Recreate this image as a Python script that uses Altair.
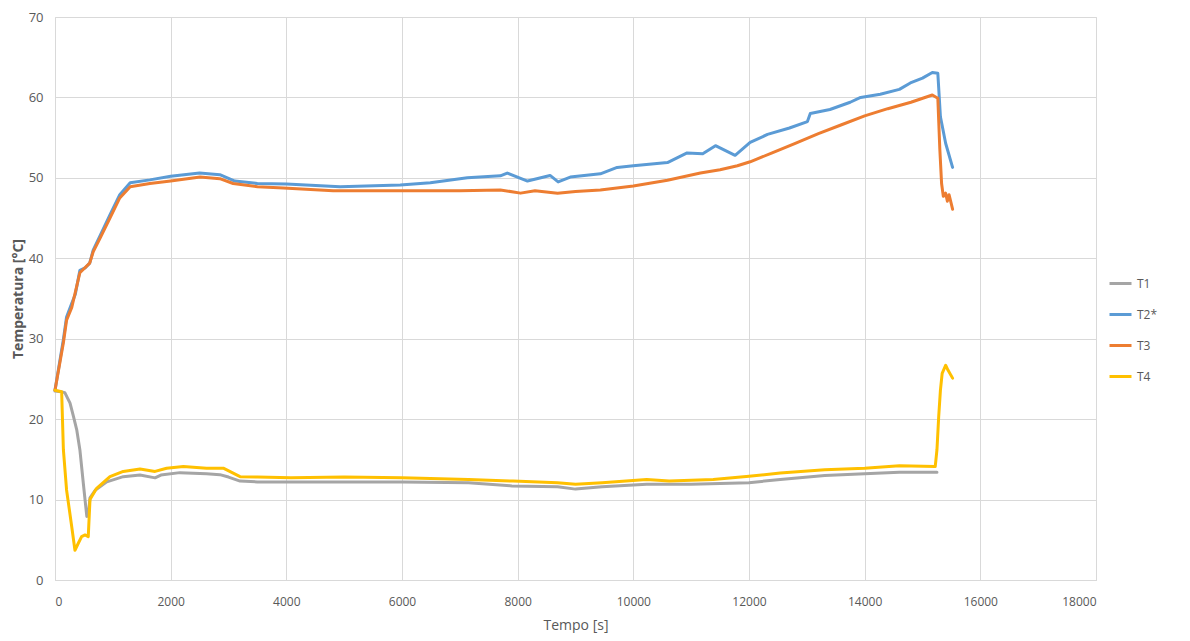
import altair as alt
import pandas as pd

series_names = ["T1", "T2*", "T3", "T4"]
series_colors = ["#A5A5A5", "#5B9BD5", "#ED7D31", "#FFC000"]

t1_time = [0, 100, 170, 260, 320, 375, 430, 490, 550, 575, 605, 700, 895, 1180, 1470, 1730, 1830, 2160,
           2620, 2850, 3000, 3200, 3500, 4080, 5000, 6000, 7150, 7900, 8690, 9000, 9460, 10230, 11000,
           12000, 12540, 13310, 14000, 14600, 15250]
t1_temp = [23.5, 23.4, 23.3, 22.0, 20.3, 18.7, 16.2, 12.0, 7.9, 8.0, 10.2, 11.2, 12.2, 12.85, 13.05, 12.7,
           13.05, 13.35, 13.2, 13.1, 12.8, 12.3, 12.2, 12.2, 12.2, 12.2, 12.1, 11.7, 11.6, 11.3, 11.6, 11.9,
           11.9, 12.1, 12.5, 13.0, 13.2, 13.4, 13.4]

t2_time = [0, 145, 200, 290, 350, 430, 520, 600, 660, 780, 950, 1120, 1300, 1640, 2000, 2500, 2850, 3110,
           3500, 4000, 4930, 5970, 6490, 7130, 7700, 7820, 8170, 8560, 8700, 8910, 9430, 9720, 10000,
           10590, 10930, 11200, 11420, 11760, 12020, 12320, 12700, 13010, 13060, 13400, 13750, 13930,
           14270, 14600, 14790, 15000, 15170, 15265, 15310, 15400, 15520]
t2_temp = [23.6, 29.9, 32.7, 34.4, 35.5, 38.5, 38.8, 39.4, 41.0, 42.8, 45.4, 47.9, 49.4, 49.75, 50.2, 50.6,
           50.4, 49.6, 49.3, 49.25, 48.9, 49.1, 49.4, 50.0, 50.25, 50.6, 49.6, 50.3, 49.5, 50.1, 50.5, 51.3,
           51.5, 51.9, 53.1, 53.0, 54.0, 52.8, 54.4, 55.4, 56.2, 57.0, 58.0, 58.5, 59.4, 60.0, 60.4, 61.0,
           61.8, 62.4, 63.1, 63.0, 57.6, 54.3, 51.3]

t3_time = [0, 145, 200, 290, 430, 600, 660, 780, 950, 1120, 1300, 1640, 2000, 2510, 2850, 3080, 3500, 3950,
           4810, 5970, 7000, 7700, 8050, 8300, 8690, 9000, 9430, 10000, 10590, 11160, 11500, 11800, 12020,
           12400, 12800, 13200, 13600, 14000, 14400, 14800, 15170, 15265, 15300, 15330, 15360, 15400,
           15430, 15460, 15520]
t3_temp = [23.6, 29.5, 32.3, 33.9, 38.2, 39.4, 40.8, 42.5, 45.0, 47.5, 48.9, 49.3, 49.6, 50.1, 49.9, 49.3,
           48.9, 48.75, 48.4, 48.4, 48.4, 48.5, 48.1, 48.4, 48.1, 48.3, 48.5, 49.0, 49.7, 50.6, 51.0, 51.5,
           52.0, 53.1, 54.3, 55.5, 56.6, 57.7, 58.6, 59.4, 60.3, 59.9, 53.5, 49.3, 47.7, 48.1, 47.1, 47.9,
           46.1]

t4_time = [0, 115, 145, 200, 290, 345, 405, 460, 520, 575, 605, 720, 950, 1180, 1470, 1730, 1930, 2220,
           2620, 2910, 3200, 3500, 4080, 5000, 6000, 7150, 7920, 8690, 9000, 9460, 10230, 10620, 11380,
           12000, 12540, 13310, 14000, 14600, 15220, 15250, 15280, 15310, 15340, 15400, 15440, 15520]
t4_temp = [23.6, 23.4, 16.2, 11.2, 6.6, 3.7, 4.6, 5.4, 5.6, 5.4, 10.0, 11.4, 12.85, 13.5, 13.8, 13.5, 13.9,
           14.1, 13.9, 13.9, 12.85, 12.8, 12.7, 12.8, 12.7, 12.5, 12.3, 12.1, 11.9, 12.1, 12.5, 12.3, 12.5,
           12.9, 13.3, 13.7, 13.9, 14.2, 14.1, 16.2, 20.3, 23.6, 25.7, 26.7, 26.1, 25.1]

x_ticks = list(range(0, 18001, 2000))
y_ticks = list(range(0, 71, 10))

rows = []
for name, ts, vs in zip(series_names, [t1_time, t2_time, t3_time, t4_time],
                        [t1_temp, t2_temp, t3_temp, t4_temp]):
    for i, (t, v) in enumerate(zip(ts, vs)):
        rows.append({"serie": name, "tempo": t, "temp": v, "ord": i})
df = pd.DataFrame(rows)

font = "Open Sans"
chart = alt.Chart(df).mark_line(strokeWidth=3, strokeJoin="round", strokeCap="round").encode(
    x=alt.X("tempo:Q", title="Tempo [s]",
            scale=alt.Scale(domain=[0, 18000], nice=False),
            axis=alt.Axis(values=x_ticks, format="d", grid=True, gridColor="#D9D9D9",
                          domainColor="#D9D9D9", ticks=False, labelColor="#595959",
                          labelFontSize=12, labelFont=font, labelPadding=16,
                          titleFont=font, titleFontSize=14, titleFontWeight="normal",
                          titleColor="#595959", titlePadding=11)),
    y=alt.Y("temp:Q", title="Temperatura [°C]",
            scale=alt.Scale(domain=[0, 70], nice=False),
            axis=alt.Axis(values=y_ticks, grid=True, gridColor="#D9D9D9", domain=False,
                          ticks=False, labelColor="#595959", labelFontSize=13, labelFont=font,
                          labelPadding=12, titleFont=font, titleFontSize=14, titleFontWeight="bold",
                          titleColor="#595959", titlePadding=3)),
    color=alt.Color("serie:N", title=None,
                    scale=alt.Scale(domain=series_names, range=series_colors),
                    legend=alt.Legend(orient="none", legendX=1053, legendY=254,
                                      symbolType="stroke", symbolSize=484, symbolStrokeWidth=3,
                                      labelFont=font, labelFontSize=12, labelColor="#595959",
                                      rowPadding=12, labelOffset=4)),
    order="ord:Q",
).properties(
    width=1041, height=563,
    autosize=alt.AutoSizeParams(type="none"),
    padding={"left": 47, "top": 9, "right": 86, "bottom": 53},
).configure_view(stroke=None).configure(background="white")

chart.save("out.html", embed_options={"renderer": "svg", "actions": False})
